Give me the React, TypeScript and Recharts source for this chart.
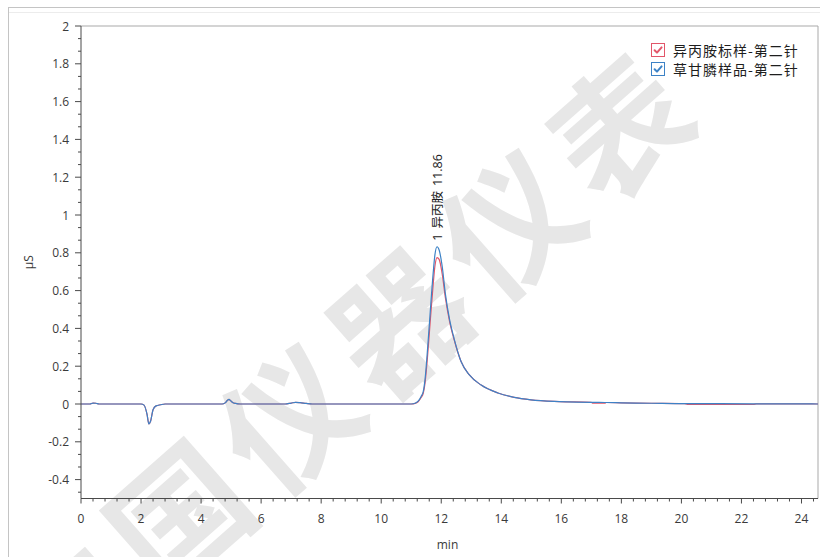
import React from 'react';
import { LineChart, Line, XAxis, YAxis, ReferenceLine, Label } from 'recharts';

// Retention time (min) of each sampled point
const retentionTimes = [
  0, 0.3, 0.4, 0.5, 0.6, 2.0, 2.1, 2.2, 2.26, 2.32, 2.4, 2.5, 2.65, 2.8,
  4.7, 4.8, 4.88, 4.93, 4.98, 5.05, 5.15, 5.3, 6.8, 7.0, 7.15, 7.3, 7.5, 7.7,
  11.0, 11.13, 11.23, 11.33, 11.4, 11.46, 11.53, 11.63, 11.73, 11.79, 11.86,
  11.93, 12.03, 12.14, 12.28, 12.43, 12.66, 12.93, 13.33, 13.89, 14.43, 14.99,
  15.93, 17.0, 17.05, 17.45, 17.5, 18.0, 19.0, 20.1, 20.2, 22.4, 22.5, 24.55,
];

// Conductivity (μS) – isopropylamine standard, 2nd injection
const standardSignal = [
  0, 0, 0.005, 0.004, 0, 0, -0.006, -0.055, -0.105, -0.09, -0.03, -0.01, -0.004, 0,
  0, 0.006, 0.02, 0.025, 0.018, 0.008, 0.003, 0, 0, 0.005, 0.009, 0.007, 0.003, 0,
  0, 0.003, 0.012, 0.034, 0.056, 0.11, 0.225, 0.43, 0.63, 0.73, 0.775,
  0.765, 0.69, 0.56, 0.435, 0.34, 0.225, 0.155, 0.1, 0.058, 0.035, 0.022,
  0.013, 0.009, 0.004, 0.004, 0.008, 0.006, 0.004, 0.002, -0.002, -0.002, 0.001, 0,
];

// Conductivity (μS) – glyphosate sample, 2nd injection
const sampleSignal = [
  0, 0, 0.005, 0.004, 0, 0, -0.006, -0.055, -0.105, -0.09, -0.03, -0.01, -0.004, 0,
  0, 0.006, 0.02, 0.025, 0.018, 0.008, 0.003, 0, 0, 0.005, 0.009, 0.007, 0.003, 0,
  0, 0.004, 0.015, 0.04, 0.065, 0.13, 0.26, 0.48, 0.69, 0.79, 0.832,
  0.815, 0.73, 0.58, 0.445, 0.345, 0.225, 0.155, 0.1, 0.058, 0.035, 0.022,
  0.013, 0.009, 0.009, 0.008, 0.008, 0.006, 0.004, 0.002, 0.002, 0.001, 0.001, 0,
];

const seriesNames = ['异丙胺标样-第二针', '草甘膦样品-第二针'];
const seriesColors = ['#e2566a', '#3d82c6'];

const xMajorTicks = [0, 2, 4, 6, 8, 10, 12, 14, 16, 18, 20, 22, 24];
const yMajorTicks = [-0.4, -0.2, 0, 0.2, 0.4, 0.6, 0.8, 1, 1.2, 1.4, 1.6, 1.8, 2];

const peakInfo = { no: 1, name: '异丙胺', time: 11.86 };

const watermarkChars = ['中', '国', '仪', '器', '仪', '表'];

const X_DOMAIN: [number, number] = [0, 24.55];
const Y_DOMAIN: [number, number] = [-0.5, 2];

const AXIS_COLOR = '#4a4a4a';
const TEXT_COLOR = '#3a3a3a';
const BORDER_COLOR = '#a9a9a9';
const NUM_FONT = '"Open Sans", "Noto Sans", sans-serif';
const CJK_FONT = '"Noto Sans CJK SC", "Noto Sans", sans-serif';
const MIXED_FONT = '"Open Sans", "Noto Sans CJK SC", sans-serif';

const data = retentionTimes.map((t, i) => ({
  t,
  standard: standardSignal[i],
  sample: sampleSignal[i],
}));

// major + minor tick positions (minor: 5 per 2 min on x, 3 per 0.2 μS on y)
const xTicks = Array.from({ length: 62 }, (_, k) => Math.round(k * 4) / 10);
const yTicks = Array.from({ length: 38 }, (_, k) => Math.round((-0.4 + (k - 1) / 15) * 10000) / 10000);

const isMajor = (v: number, majors: number[]) => majors.some((m) => Math.abs(m - v) < 1e-6);

const XTick = (props: any) => {
  const { x, y, payload } = props;
  const v = payload.value;
  const major = isMajor(v, xMajorTicks);
  return (
    <g>
      <line x1={x} y1={y} x2={x} y2={y + (major ? 5 : 3)} stroke={AXIS_COLOR} strokeWidth={1} />
      {major && (
        <text x={x} y={y + 20} textAnchor="middle" dominantBaseline="central" fill={TEXT_COLOR} fontSize={12} fontFamily={NUM_FONT}>
          {v}
        </text>
      )}
    </g>
  );
};

const YTick = (props: any) => {
  const { x, y, payload } = props;
  const v = payload.value;
  const major = isMajor(v, yMajorTicks);
  return (
    <g>
      <line x1={x - (major ? 6 : 3)} y1={y} x2={x} y2={y} stroke={AXIS_COLOR} strokeWidth={1} />
      {major && (
        <text x={x - 12} y={y} textAnchor="end" dominantBaseline="central" fill={TEXT_COLOR} fontSize={12} fontFamily={NUM_FONT}>
          {Math.round(v * 10) / 10}
        </text>
      )}
    </g>
  );
};

const XTitle = (props: any) => {
  const vb = props.viewBox || {};
  return (
    <text x={vb.x + vb.width / 2 - 2} y={vb.y + 46} textAnchor="middle" dominantBaseline="central" fill={TEXT_COLOR} fontSize={12} fontFamily={NUM_FONT}>
      min
    </text>
  );
};

const YTitle = (props: any) => {
  const vb = props.viewBox || {};
  const cx = vb.x + 28;
  const cy = vb.y + vb.height / 2;
  return (
    <text x={cx} y={cy} transform={`rotate(-90 ${cx} ${cy})`} textAnchor="middle" dominantBaseline="central" fill={TEXT_COLOR} fontSize={12} fontFamily={NUM_FONT}>
      μS
    </text>
  );
};

// rotated peak annotation: "<no> <name> <retention time>"
const PeakLabel = (props: any) => {
  const { x, y, index } = props;
  if (retentionTimes[index] !== peakInfo.time) return null;
  const lx = x + 4.5;
  const ly = y - 6;
  return (
    <text x={lx} y={ly} transform={`rotate(-90 ${lx} ${ly})`} textAnchor="start" fill="#222" fontSize={12.5} fontFamily={MIXED_FONT}>
      <tspan>{peakInfo.no}</tspan>
      <tspan dx={5}>{peakInfo.name}</tspan>
      <tspan dx={5}>{peakInfo.time}</tspan>
    </text>
  );
};

const CheckBox = ({ color }: { color: string }) => (
  <svg width={14} height={14} style={{ display: 'block' }}>
    <rect x={0.5} y={0.5} width={13} height={13} fill="#fff" stroke={color} strokeWidth={1} />
    <path d="M3.6 7.2 L6 9.6 L10.6 4.4" fill="none" stroke={color} strokeWidth={2} strokeLinecap="round" strokeLinejoin="round" />
  </svg>
);

export default function App() {
  return (
    <div style={{ position: 'absolute', left: 0, top: 0, width: 820, height: 557, overflow: 'hidden', background: '#fff' }}>
      {/* outer panel frame */}
      <div style={{ position: 'absolute', left: 8, top: 7, width: 900, height: 700, border: '1px solid #c4c4c4', boxSizing: 'border-box' }} />
      <div style={{ position: 'absolute', left: 9, top: 12, width: 900, height: 1, background: '#ececec' }} />

      {/* watermark */}
      <svg width={820} height={557} style={{ position: 'absolute', left: 0, top: 0 }}>
        {watermarkChars.map((ch, i) => {
          const cx = 65 + i * 110;
          const cy = 608 - i * 97;
          return (
            <text
              key={i}
              x={cx}
              y={cy}
              transform={`rotate(-41.4 ${cx} ${cy})`}
              textAnchor="middle"
              dominantBaseline="central"
              fontSize={134}
              fontWeight={700}
              fontFamily={CJK_FONT}
              fill="#e7e7e7"
            >
              {ch}
            </text>
          );
        })}
      </svg>

      <div style={{ position: 'absolute', left: 0, top: 0 }}>
        <LineChart width={820} height={557} data={data} margin={{ top: 26, right: 2, bottom: 0, left: 0 }}>
          <XAxis
            dataKey="t"
            type="number"
            domain={X_DOMAIN}
            ticks={xTicks}
            interval={0}
            allowDataOverflow
            height={58.5}
            tickLine={false}
            tickSize={0}
            tickMargin={0}
            tick={<XTick />}
            axisLine={{ stroke: AXIS_COLOR }}
          >
            <Label content={<XTitle />} />
          </XAxis>
          <YAxis
            type="number"
            domain={Y_DOMAIN}
            ticks={yTicks}
            interval={0}
            allowDataOverflow
            width={81}
            tickLine={false}
            tickSize={0}
            tickMargin={0}
            tick={<YTick />}
            axisLine={{ stroke: AXIS_COLOR }}
          >
            <Label content={<YTitle />} />
          </YAxis>
          <ReferenceLine y={2} stroke={BORDER_COLOR} strokeWidth={1} />
          <ReferenceLine x={24.55} stroke={BORDER_COLOR} strokeWidth={1} />
          <Line
            type="monotone"
            dataKey="standard"
            name={seriesNames[0]}
            stroke={seriesColors[0]}
            strokeWidth={1.2}
            dot={false}
            isAnimationActive={false}
          />
          <Line
            type="monotone"
            dataKey="sample"
            name={seriesNames[1]}
            stroke={seriesColors[1]}
            strokeWidth={1.2}
            dot={false}
            isAnimationActive={false}
            label={<PeakLabel />}
          />
        </LineChart>
      </div>

      {/* legend */}
      <div style={{ position: 'absolute', left: 651, top: 41, fontFamily: CJK_FONT, fontSize: 14, color: '#1e1e1e' }}>
        {seriesNames.map((n, i) => (
          <div key={n} style={{ display: 'flex', alignItems: 'center', height: 18.5 }}>
            <CheckBox color={seriesColors[i]} />
            <span style={{ marginLeft: 8, lineHeight: '18px', whiteSpace: 'nowrap', letterSpacing: 1 }}>{n}</span>
          </div>
        ))}
      </div>
    </div>
  );
}
